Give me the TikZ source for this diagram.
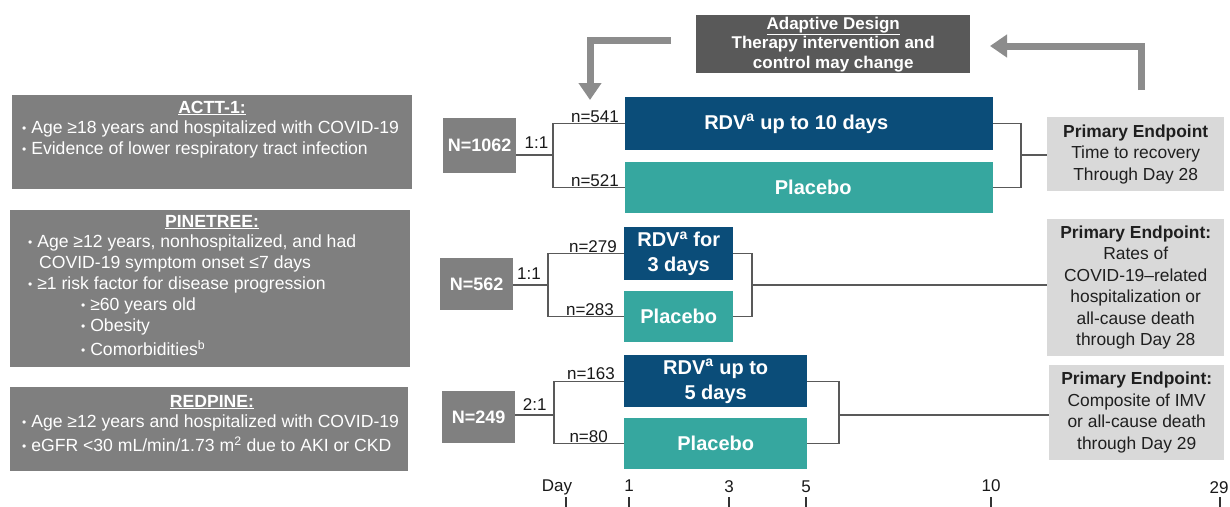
\documentclass[tikz,border=0pt]{standalone}
\usepackage{fontspec}
\setmainfont{Liberation Sans}
\usetikzlibrary{arrows.meta,calc}
\definecolor{rdvblue}{HTML}{0B4D79}
\definecolor{pbteal}{HTML}{36A79F}
\definecolor{critgray}{HTML}{7F7F7F}
\definecolor{ngray}{HTML}{808080}
\definecolor{adgray}{HTML}{595959}
\definecolor{epgray}{HTML}{D9D9D9}
\definecolor{arrgray}{HTML}{8C8C8C}
\definecolor{lnk}{HTML}{595959}
\newcommand{\mybul}{{\fontsize{12}{12}\selectfont\raisebox{1pt}{•}}\ }
\begin{document}
\begin{tikzpicture}[x=1pt,y=-1pt,
  box/.style={draw=none, inner sep=0pt, anchor=north west, align=center},
  crit/.style={box, fill=critgray},
  nbox/.style={box, fill=ngray, text=white, font=\fontsize{18}{21}\selectfont\bfseries},
  rdv/.style={box, fill=rdvblue, text=white, font=\fontsize{20}{25}\selectfont\bfseries},
  pbo/.style={box, fill=pbteal, text=white, font=\fontsize{20}{25}\selectfont\bfseries},
  ep/.style={box, fill=epgray, text=black!88, font=\fontsize{17.4}{21.5}\selectfont},
  adbox/.style={box, fill=adgray, text=white, font=\fontsize{17}{19.5}\selectfont\bfseries},
  ctext/.style={text=white, inner sep=0pt, anchor=west, font=\fontsize{17.6}{21}\selectfont},
  ctitle/.style={text=white, inner sep=0pt, anchor=center, font=\fontsize{17.6}{21}\selectfont\bfseries},
  lbl/.style={inner sep=1pt, font=\fontsize{17}{20}\selectfont, text=black!90},
  link/.style={draw=lnk, line width=1.2pt},
  bigarrow/.style={draw=arrgray, line width=7pt, -{Triangle[width=22pt,length=17pt]}},
  tickmark/.style={draw=black!80, line width=1.4pt},
]
\useasboundingbox (0,0) rectangle (1230,506);
\fill[white] (0,0) rectangle (1230,506);

% adaptive design
\node[adbox, minimum width=274pt, minimum height=58pt] (adapt) at (696,15)
  {\underline{Adaptive Design}\\Therapy intervention and\\control may change};
\coordinate (la) at (671,40);
\coordinate (lt) at (590,100);
\draw[bigarrow] (la) -| (lt);
\coordinate (ra) at (1141,90);
\coordinate (rt) at (990,46);
\draw[bigarrow] (ra) |- (rt);

% criteria boxes
\node[crit, minimum width=400pt, minimum height=94pt] (actt) at (12,95) {};
\node[ctitle] (acttT) at (212,108) {\underline{ACTT-1:}};
\node[ctext] (acttA) at (22,129) {\mybul Age ≥18 years and hospitalized with COVID-19};
\node[ctext] (acttB) at (22,150) {\mybul Evidence of lower respiratory tract infection};

\node[crit, minimum width=400pt, minimum height=157pt] (pine) at (10,210) {};
\node[ctitle] (pineT) at (212,222) {\underline{PINETREE:}};
\node[ctext] (pineA) at (28,243) {\mybul Age ≥12 years, nonhospitalized, and had};
\node[ctext] (pineB) at (39,264) {COVID-19 symptom onset ≤7 days};
\node[ctext] (pineC) at (28,285) {\mybul ≥1 risk factor for disease progression};
\node[ctext] (pineD) at (81,306) {\mybul ≥60 years old};
\node[ctext] (pineE) at (81,327) {\mybul Obesity};
\node[ctext] (pineF) at (81,348) {\mybul Comorbidities\textsuperscript{b}};

\node[crit, minimum width=398pt, minimum height=84pt] (redp) at (10,387) {};
\node[ctitle] (redpT) at (212,402) {\underline{REDPINE:}};
\node[ctext] (redpA) at (22,423) {\mybul Age ≥12 years and hospitalized with COVID-19};
\node[ctext] (redpB) at (22,444) {\mybul eGFR <30 mL/min/1.73 m\textsuperscript{2} due to AKI or CKD};

% N boxes
\node[nbox, minimum width=73pt, minimum height=55pt] (n1) at (443,118) {N=1062};
\node[nbox, minimum width=73pt, minimum height=52pt] (n2) at (440,258) {N=562};
\node[nbox, minimum width=73pt, minimum height=52pt] (n3) at (442,391) {N=249};

% arms
\node[rdv, minimum width=368pt, minimum height=53pt] (r1) at (625,97) {RDV\textsuperscript{a} up to 10 days\hspace*{26pt}};
\node[pbo, minimum width=368pt, minimum height=51pt] (p1) at (625,162) {\hspace*{8pt}Placebo};
\node[rdv, minimum width=109pt, minimum height=53pt] (r2) at (624,227) {RDV\textsuperscript{a} for\\3 days};
\node[pbo, minimum width=109pt, minimum height=51pt] (p2) at (624,291) {Placebo};
\node[rdv, minimum width=183pt, minimum height=52pt] (r3) at (624,355) {RDV\textsuperscript{a} up to\\5 days};
\node[pbo, minimum width=183pt, minimum height=51pt] (p3) at (624,418) {Placebo};

% endpoints
\node[ep, minimum width=177pt, minimum height=74pt] (e1) at (1047,117)
  {\textbf{Primary Endpoint}\\Time to recovery\\Through Day 28};
\node[ep, minimum width=177pt, minimum height=137pt] (e2) at (1047,219)
  {\textbf{Primary Endpoint:}\\Rates of\\COVID-19–related\\hospitalization or\\all-cause death\\through Day 28};
\node[ep, minimum width=175pt, minimum height=95pt] (e3) at (1049,365)
  {\textbf{Primary Endpoint:}\\Composite of IMV\\or all-cause death\\through Day 29};

% brackets trial 1
\coordinate (b1) at (553,155);
\coordinate (c1) at (1021,155);
\draw[link] (r1.west) -| (b1) |- (p1.west);
\draw[link] (n1.east |- b1) -- (b1);
\draw[link] (r1.east) -| (c1) |- (p1.east);
\draw[link] (c1) -- (e1.west |- c1);
% trial 2
\coordinate (b2) at (548,285);
\coordinate (c2) at (752,285);
\draw[link] (r2.west) -| (b2) |- (p2.west);
\draw[link] (n2.east |- b2) -- (b2);
\draw[link] (r2.east) -| (c2) |- (p2.east);
\draw[link] (c2) -- (e2.west |- c2);
% trial 3
\coordinate (b3) at (554,415);
\coordinate (c3) at (839,415);
\draw[link] (r3.west) -| (b3) |- (p3.west);
\draw[link] (n3.east |- b3) -- (b3);
\draw[link] (r3.east) -| (c3) |- (p3.east);
\draw[link] (c3) -- (e3.west |- c3);

% n labels
\node[lbl, anchor=south east] (l541) at ([xshift=-5pt]r1.west) {n=541};
\node[lbl, anchor=south east] (l521) at ([xshift=-5pt]p1.west) {n=521};
\node[lbl, anchor=south east] (l279) at ([xshift=-6pt]r2.west) {n=279};
\node[lbl, anchor=south east] (l283) at ([xshift=-9pt]p2.west) {n=283};
\node[lbl, anchor=south east] (l163) at ([xshift=-8pt]r3.west) {n=163};
\node[lbl, anchor=south east] (l80) at ([xshift=-15pt]p3.west) {n=80};
% ratio labels
\node[lbl, anchor=south, yshift=5pt] (q1) at ($(n1.east |- b1)!0.55!(b1)$) {1:1};
\node[lbl, anchor=south, yshift=4pt] (q2) at ($(n2.east |- b2)!0.45!(b2)$) {1:1};
\node[lbl, anchor=south, yshift=3pt] (q3) at ($(n3.east |- b3)!0.5!(b3)$) {2:1};

% day axis
\node[lbl, anchor=base] (dday) at (557,491) {Day};
\node[lbl, anchor=base] (d1) at (629,491) {1};
\node[lbl, anchor=base] (d3) at (729,492) {3};
\node[lbl, anchor=base] (d5) at (806,492) {5};
\node[lbl, anchor=base] (d10) at (991,491) {10};
\node[lbl, anchor=base] (d29) at (1219,493) {29};
\coordinate (t0) at (566,497);
\coordinate (t1) at (629,497);
\coordinate (t3) at (729,497);
\coordinate (t5) at (806,497);
\coordinate (t10) at (991,497);
\coordinate (t29) at (1220,497);
\foreach \t in {t0,t1,t3,t5,t10,t29} \draw[tickmark] (\t) -- ++(0,10);
\end{tikzpicture}
\end{document}
